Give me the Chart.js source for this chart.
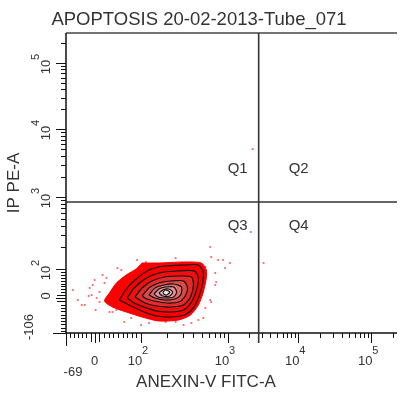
<!DOCTYPE html>
<html lang="en">
<head>
<meta charset="UTF-8">
<title>APOPTOSIS 20-02-2013-Tube_071</title>
<script src="https://cdn.jsdelivr.net/npm/chart.js"></script>
<style>
    html, body { margin: 0; padding: 0; background: #fff; overflow: hidden; }
    canvas { display: block; }
</style>
</head>
<body>
<canvas id="dotPlot" width="401" height="394"></canvas>
<script>
// axes are in display channels (x 0..670, y 0..600), labels are the real values
const xMax = 670, yMax = 600;
const xTickValues = [-69, 0, 100, 1000, 10000, 100000];
const xTickChannels = [0, 58, 152, 328, 470, 618];
const xTickLabels = ['-69', '0', '10^2', '10^3', '10^4', '10^5'];
const yTickValues = [-106, 0, 100, 1000, 10000, 100000];
const yTickChannels = [0, 70, 128, 272, 408, 540];
const yTickLabels = ['-106', '0', '10^2', '10^3', '10^4', '10^5'];

// quadrant gate
const quadX = 390, quadY = 262;
const quadNames = ['Q1', 'Q2', 'Q3', 'Q4'];

// single events outside the contours
const dotX = [14,24,32,38,52,54,58,62,68,74,78,82,88,94,102,104,112,132,144,152,162,222,254,268,282,292,294,302,304,302,308,318,322,332,292,294,282,222,202,378,374,400,46,60,118,168,238,278,48,68];
const dotY = [86,66,56,56,76,96,106,70,62,116,100,110,42,42,46,130,126,30,146,16,142,150,20,26,132,172,152,120,102,96,146,146,130,140,66,62,50,22,22,368,202,140,74,46,22,20,16,30,90,82];

// contour levels, outermost first
const contourX = [
    [154,188,238,274,284,284,278,268,252,228,188,154,122,94,78,88,102,122,142],
    [108,122,142,168,198,238,268,278,276,268,256,240,212,184,158,132],
    [124,138,160,188,224,260,268,264,254,238,212,184,158,138],
    [140,154,174,200,232,254,258,252,238,212,184,160],
    [154,168,188,212,238,246,240,228,204,178,164],
    [168,180,198,218,234,232,220,200,180],
    [178,188,202,218,224,218,202,186],
    [188,196,208,216,210,196],
    [196,202,210,204,198]
];
const contourY = [
    [140,140,142,140,126,110,82,56,36,26,24,32,42,52,64,80,100,116,128],
    [66,88,108,126,134,136,136,122,96,70,48,36,32,34,42,54],
    [70,90,108,120,124,124,110,86,62,46,42,44,52,60],
    [72,90,104,112,114,112,96,72,56,52,54,60],
    [74,90,100,104,104,90,72,62,60,64,68],
    [76,90,96,98,92,76,68,66,70],
    [78,88,92,92,82,72,70,72],
    [80,86,88,82,74,74],
    [82,86,82,76,78]
];
const levelFill = ['#ff0000', '#f60000', '#ec1010', '#e42a2a', '#de4848', '#de6a6a', '#e69292', '#efbaba', '#fbe4e4'];

const FONT = '"Liberation Sans", Arial, sans-serif';

// value -> display channel, linear near zero, log between decades
function toChannel(v, vals, chans) {
    const n = vals.length;
    if (v >= vals[n - 1]) {
        return chans[n - 1] + Math.log10(v / vals[n - 1]) * (chans[n - 1] - chans[n - 2]);
    }
    for (let i = 0; i < n - 1; i++) {
        if (v >= vals[i] && v <= vals[i + 1]) {
            const t = vals[i] > 0
                ? Math.log10(v / vals[i]) / Math.log10(vals[i + 1] / vals[i])
                : (v - vals[i]) / (vals[i + 1] - vals[i]);
            return chans[i] + t * (chans[i + 1] - chans[i]);
        }
    }
    return chans[0];
}

// every tick mark of one axis: [channel, length]
function tickMarks(vals, chans, max) {
    const out = [];
    vals.forEach((v, i) => out.push([chans[i], i === 0 ? 13 : 10]));
    for (let v = Math.ceil(vals[0] / 10) * 10; v < 100; v += 10) {
        if (v === 0) continue;
        out.push([toChannel(v, vals, chans), Math.abs(v) === 10 ? 9 : 5]);
    }
    for (let k = 2; k <= 5; k++) {
        for (let m = 2; m <= 9; m++) {
            const c = toChannel(m * Math.pow(10, k), vals, chans);
            if (c <= max) out.push([c, 5]);
        }
    }
    return out;
}

function drawLabel(ctx, label, x, y) {
    // "10^3" -> 10 with a raised exponent
    const parts = label.split('^');
    ctx.font = '13px ' + FONT;
    ctx.textAlign = 'center';
    ctx.textBaseline = 'middle';
    if (parts.length === 1) {
        ctx.fillText(label, x, y);
        return;
    }
    ctx.fillText(parts[0], x - 6, y);
    ctx.font = '11px ' + FONT;
    ctx.fillText(parts[1], x + 4, y - 10);
}

const axesPlugin = {
    id: 'cytoAxes',
    afterDraw(chart) {
        const { ctx, chartArea: a, scales: { x, y } } = chart;
        ctx.save();

        // title
        ctx.fillStyle = '#333';
        ctx.font = '18.5px ' + FONT;
        ctx.textAlign = 'center';
        ctx.textBaseline = 'alphabetic';
        ctx.fillText('APOPTOSIS 20-02-2013-Tube_071', 199, 25);

        // frame
        ctx.strokeStyle = '#444';
        ctx.lineWidth = 1.5;
        ctx.beginPath();
        ctx.moveTo(a.left, a.top);
        ctx.lineTo(a.right, a.top);
        ctx.stroke();
        ctx.strokeStyle = '#111';
        ctx.beginPath();
        ctx.moveTo(a.left, a.top);
        ctx.lineTo(a.left, a.bottom);
        ctx.lineTo(a.right, a.bottom);
        ctx.stroke();

        // quadrant gate
        const gx = x.getPixelForValue(quadX);
        const gy = y.getPixelForValue(quadY);
        ctx.strokeStyle = '#333';
        ctx.lineWidth = 1.6;
        ctx.beginPath();
        ctx.moveTo(gx, a.top);
        ctx.lineTo(gx, a.bottom + 10);
        ctx.moveTo(a.left, gy);
        ctx.lineTo(a.right, gy);
        ctx.stroke();

        // ticks
        ctx.strokeStyle = '#111';
        ctx.lineWidth = 1;
        ctx.beginPath();
        tickMarks(xTickValues, xTickChannels, xMax).forEach(([c, len]) => {
            const px = Math.round(x.getPixelForValue(c)) + 0.5;
            ctx.moveTo(px, a.bottom);
            ctx.lineTo(px, a.bottom + len);
        });
        tickMarks(yTickValues, yTickChannels, yMax).forEach(([c, len]) => {
            const py = Math.round(y.getPixelForValue(c)) + 0.5;
            ctx.moveTo(a.left, py);
            ctx.lineTo(a.left - len, py);
        });
        ctx.stroke();

        // tick labels
        ctx.fillStyle = '#333';
        xTickLabels.forEach((lab, i) => {
            const px = x.getPixelForValue(xTickChannels[i]);
            if (i === 0) drawLabel(ctx, lab, px + 7, a.bottom + 39);
            else drawLabel(ctx, lab, px, a.bottom + 28);
        });
        yTickLabels.forEach((lab, i) => {
            const py = y.getPixelForValue(yTickChannels[i]);
            ctx.save();
            if (i === 0) {
                ctx.translate(a.left - 37, py - 6);
                ctx.rotate(-Math.PI / 2);
                drawLabel(ctx, lab, 0, 0);
            } else {
                ctx.translate(a.left - 20, py);
                ctx.rotate(-Math.PI / 2);
                drawLabel(ctx, lab, 2, 0);
            }
            ctx.restore();
        });

        // axis titles
        ctx.font = '17px ' + FONT;
        ctx.textAlign = 'center';
        ctx.textBaseline = 'middle';
        ctx.fillText('ANEXIN-V FITC-A', 206, 382);
        ctx.save();
        ctx.translate(14, 183);
        ctx.rotate(-Math.PI / 2);
        ctx.fillText('IP PE-A', 0, 0);
        ctx.restore();

        // quadrant names
        ctx.font = '15px ' + FONT;
        ctx.fillText(quadNames[0], gx - 21, gy - 33);
        ctx.fillText(quadNames[1], gx + 40, gy - 33);
        ctx.fillText(quadNames[2], gx - 21, gy + 24);
        ctx.fillText(quadNames[3], gx + 40, gy + 24);

        ctx.restore();
    }
};

const datasets = [{
    label: 'events',
    data: dotX.map((v, i) => ({ x: v, y: dotY[i] })),
    showLine: false,
    pointRadius: 1.1,
    pointBorderWidth: 0,
    backgroundColor: 'rgba(255, 70, 70, 0.85)',
    order: 20
}];
contourX.forEach((xs, k) => {
    const pts = xs.map((v, i) => ({ x: v, y: contourY[k][i] }));
    pts.push(pts[0]);
    datasets.push({
        label: 'level ' + k,
        data: pts,
        showLine: true,
        fill: 'shape',
        backgroundColor: levelFill[k],
        borderColor: k === 0 ? '#ee0000' : '#111',
        borderWidth: k === 0 ? 1 : 1.2,
        pointRadius: 0,
        tension: 0.25,
        order: 10 - k
    });
});

new Chart(document.getElementById('dotPlot').getContext('2d'), {
    type: 'scatter',
    data: { datasets: datasets },
    options: {
        responsive: false,
        animation: false,
        events: [],
        layout: { padding: { left: 66, top: 33, right: 0, bottom: 61 } },
        plugins: { legend: { display: false }, tooltip: { enabled: false } },
        scales: {
            x: { type: 'linear', min: 0, max: xMax, display: false },
            y: { type: 'linear', min: 0, max: yMax, display: false }
        }
    },
    plugins: [axesPlugin]
});
</script>
</body>
</html>
